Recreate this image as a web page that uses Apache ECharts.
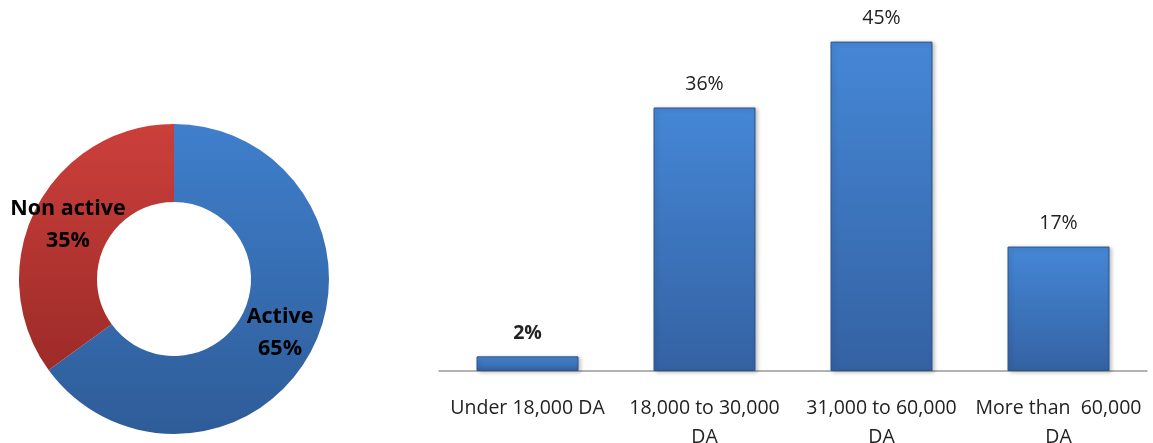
<!DOCTYPE html>
<html>
<head>
<meta charset="utf-8">
<script src="https://cdn.jsdelivr.net/npm/echarts@6/dist/echarts.min.js"></script>
<style>
html,body{margin:0;padding:0;background:#fff;}
#c{width:1153px;height:443px;}
</style>
</head>
<body>
<div id="c"></div>
<script>
const pieNames = ["Active", "Non active"];
const pieValues = [65, 35];
const categories = ["Under 18,000 DA", "18,000 to 30,000\nDA", "31,000 to 60,000\nDA", "More than  60,000\nDA"];
const barValues = [2, 36, 45, 17];

const chart = echarts.init(document.getElementById('c'), null, {renderer: 'canvas'});
const grad = (a, b) => new echarts.graphic.LinearGradient(0, 0, 0, 1, [{offset: 0, color: a}, {offset: 1, color: b}]);
const pieColors = [grad('#3F7FCC', '#2E5C98'), grad('#CC3F3B', '#9C2B28')];

chart.setOption({
  animation: false,
  grid: {left: 439, right: 6, top: 5, bottom: 72, containLabel: false, outerBoundsMode: 'none'},
  xAxis: {
    type: 'category',
    data: categories,
    axisLine: {lineStyle: {color: '#999', width: 1.5}},
    axisTick: {show: false},
    axisLabel: {color: '#222', fontFamily: 'Open Sans', fontSize: 19.5, margin: 23, lineHeight: 29, interval: 0}
  },
  yAxis: {type: 'value', min: 0, max: 50, show: false, splitLine: {show: false}},
  series: [
    {
      type: 'bar',
      data: barValues.map((v, i) => ({value: v, label: i === 0 ? {fontWeight: 'bold'} : {}})),
      barWidth: 102,
      itemStyle: {
        color: grad('#4587D6', '#3462A3'),
        borderColor: '#2D5489',
        borderWidth: 1,
        shadowColor: 'rgba(0,0,0,0.25)',
        shadowBlur: 4,
        shadowOffsetX: 2,
        shadowOffsetY: 1
      },
      label: {
        show: true, position: 'top', distance: 13,
        formatter: p => p.value + '%',
        color: '#222', fontFamily: 'Open Sans', fontSize: 19.5
      }
    },
    {
      type: 'pie',
      center: [174, 279],
      radius: [77, 155],
      startAngle: 90,
      clockwise: true,
      data: pieNames.map((n, i) => ({name: n, value: pieValues[i], itemStyle: {color: pieColors[i]}})),
      label: {
        show: true, position: 'inside',
        formatter: p => p.name + '\n' + p.value + '%',
        color: '#000', fontFamily: 'Open Sans', fontWeight: 'bold', fontSize: 21.5, lineHeight: 32,
        padding: [14, 0, 0, 0]
      },
      labelLine: {show: false}
    }
  ]
});
</script>
</body>
</html>
